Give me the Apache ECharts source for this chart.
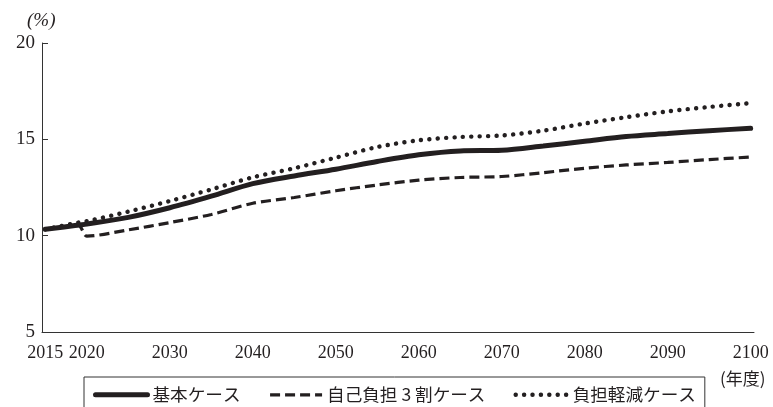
<!DOCTYPE html>
<html>
<head>
<meta charset="utf-8">
<script src="https://cdn.jsdelivr.net/npm/echarts@6/dist/echarts.min.js"></script>
<style>
  html, body { margin: 0; padding: 0; background: #fff; }
  #chart { width: 773px; height: 407px; }
</style>
</head>
<body>
<div id="chart"></div>
<script>
// Fiscal years sampled along each projection
const years = [2015, 2019, 2020, 2025, 2030, 2035, 2040, 2045, 2050, 2055, 2060, 2065, 2070, 2075, 2080, 2085, 2090, 2095, 2100];

// Ratio (%) for each scenario
const baseCase = [10.33, 10.55, 10.6, 10.95, 11.45, 12.05, 12.7, 13.1, 13.45, 13.85, 14.2, 14.4, 14.43, 14.65, 14.9, 15.15, 15.3, 15.45, 15.57];
const copay30Case = [10.33, 10.52, 9.98, 10.3, 10.68, 11.1, 11.68, 11.98, 12.33, 12.63, 12.88, 13.02, 13.07, 13.27, 13.5, 13.67, 13.8, 13.95, 14.08];
const reliefCase = [10.33, 10.68, 10.75, 11.25, 11.8, 12.4, 13.03, 13.5, 14.05, 14.6, 14.95, 15.12, 15.2, 15.45, 15.82, 16.15, 16.45, 16.68, 16.88];

const seriesNames = ['基本ケース', '自己負担 3 割ケース', '負担軽減ケース'];
const xTickLabels = [2015, 2020, 2030, 2040, 2050, 2060, 2070, 2080, 2090, 2100];
const yTickLabels = [5, 10, 15, 20];

const ink = '#231f20';
const numFont = '"Liberation Serif", "DejaVu Serif", serif';
const jpFont = '"Noto Sans CJK JP", "Noto Sans", sans-serif';

// Line styles shared by the plotted series and their legend keys
const solidStyle = { color: ink, width: 5, cap: 'round' };
const dashedStyle = { color: ink, width: 3.2, type: [10, 5] };
const dottedStyle = { color: ink, width: 4.4, type: [0.1, 8.3], cap: 'round' };

function pairs(values) {
  return years.map((y, i) => [y, values[i]]);
}

const chart = echarts.init(document.getElementById('chart'), null, { renderer: 'canvas' });

chart.setOption({
  animation: false,
  backgroundColor: '#fff',
  grid: { left: 42, right: 19, top: 43, bottom: 75, containLabel: false },
  xAxis: {
    type: 'value',
    min: 2014.6,
    max: 2100.4,
    splitLine: { show: false },
    axisLine: { lineStyle: { color: '#333', width: 1 } },
    axisTick: { show: false },
    axisLabel: {
      customValues: xTickLabels,
      color: ink,
      fontFamily: numFont,
      fontSize: 18,
      margin: 12,
      formatter: v => String(v)
    }
  },
  yAxis: {
    type: 'value',
    min: 5,
    max: 20,
    interval: 5,
    splitLine: { show: false },
    axisLine: { show: true, lineStyle: { color: '#333', width: 1 } },
    axisTick: { show: true, inside: true, length: 6, lineStyle: { color: '#333' }, customValues: yTickLabels },
    axisLabel: {
      customValues: yTickLabels,
      color: ink,
      fontFamily: numFont,
      fontSize: 19,
      margin: 7
    }
  },
  legend: {
    data: [
      { name: seriesNames[0], lineStyle: solidStyle },
      { name: seriesNames[1], lineStyle: dashedStyle },
      { name: seriesNames[2], lineStyle: dottedStyle }
    ],
    left: 84,
    top: 377,
    padding: [9, 9, 12, 9],
    itemGap: 28,
    itemWidth: 52,
    itemHeight: 14,
    borderColor: '#333',
    borderWidth: 1,
    itemStyle: { color: 'rgba(0,0,0,0)', borderWidth: 0, opacity: 0 },
    textStyle: { color: ink, fontFamily: jpFont, fontSize: 17.6 }
  },
  graphic: [
    {
      type: 'text',
      left: 27,
      top: 11,
      style: { text: '(%)', fill: ink, font: 'italic 19px ' + numFont }
    },
    {
      type: 'text',
      left: 720,
      top: 370,
      style: { text: '(年度)', fill: ink, font: '17px ' + jpFont }
    }
  ],
  series: [
    {
      name: seriesNames[0],
      type: 'line',
      data: pairs(baseCase),
      smooth: 0.3,
      symbol: 'none',
      lineStyle: solidStyle,
      itemStyle: { color: ink },
      z: 3
    },
    {
      name: seriesNames[1],
      type: 'line',
      data: pairs(copay30Case),
      smooth: 0.3,
      symbol: 'none',
      lineStyle: dashedStyle,
      itemStyle: { color: ink },
      z: 2
    },
    {
      name: seriesNames[2],
      type: 'line',
      data: pairs(reliefCase),
      smooth: 0.3,
      symbol: 'none',
      lineStyle: dottedStyle,
      itemStyle: { color: ink },
      z: 1
    }
  ]
});
</script>
</body>
</html>
